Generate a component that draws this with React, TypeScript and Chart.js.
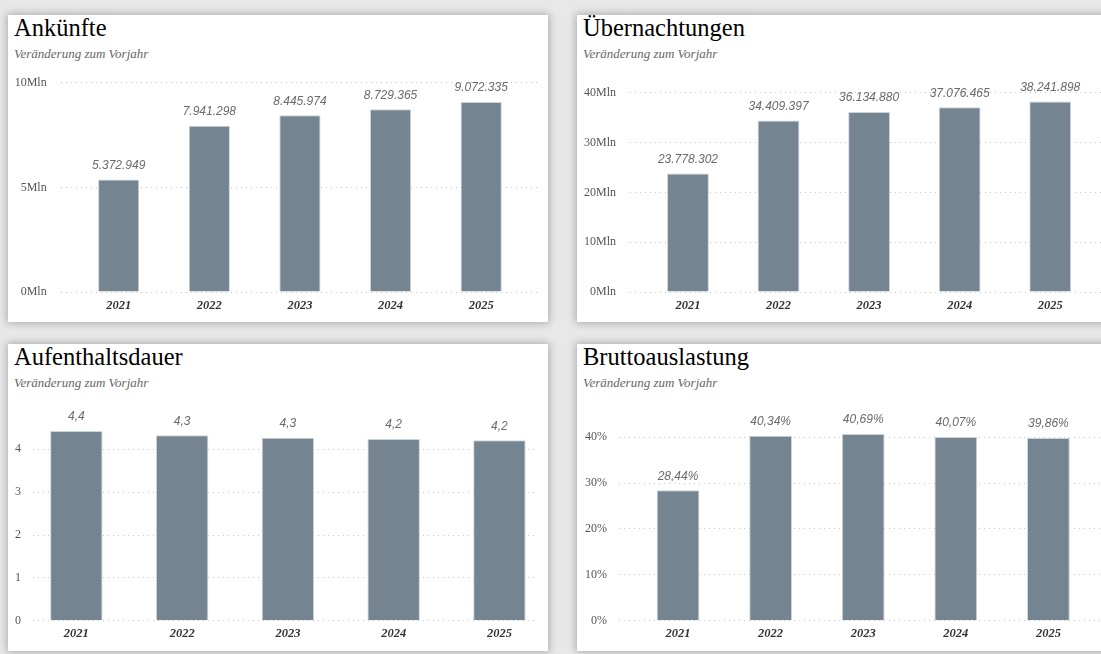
import React, { useEffect, useRef } from "react";
import { Chart, registerables } from "chart.js";
Chart.register(...registerables);

const years = ["2021", "2022", "2023", "2024", "2025"];
const arrivals = [5372949, 7941298, 8445974, 8729365, 9072335];
const overnights = [23778302, 34409397, 36134880, 37076465, 38241898];
const stayLength = [4.43, 4.33, 4.27, 4.24, 4.21];
const occupancy = [0.2844, 0.4034, 0.4069, 0.4007, 0.3986];

const arrivalTicks = [0, 5000000, 10000000];
const overnightTicks = [0, 10000000, 20000000, 30000000, 40000000];
const stayTicks = [0, 1, 2, 3, 4];
const occupancyTicks = [0, 0.1, 0.2, 0.3, 0.4];

const subtitle = "Veränderung zum Vorjahr";

const fmtInt = (n: number) => String(Math.round(n)).replace(/\B(?=(\d{3})+(?!\d))/g, ".");
const fmtMln = (v: number) => Math.round(v / 1e6) + "Mln";
const fmtDec1 = (v: number) => v.toFixed(1).replace(".", ",");
const fmtPct2 = (v: number) => (v * 100).toFixed(2).replace(".", ",") + "%";
const fmtPct0 = (v: number) => Math.round(v * 100) + "%";
const fmtPlain = (v: number) => String(v);

const SERIF = '"Liberation Serif"';
const SANS = '"Liberation Sans"';

type PanelCfg = {
  title: string;
  values: number[];
  ticks: number[];
  yMax: number;
  fmtLabel: (v: number) => string;
  fmtTick: (v: number) => string;
  axisWidth: number;
  tickPad: number;
  padTop: number;
  padRight: number;
  xHeight: number;
  xMin: number;
  xMax: number;
  barPct: number;
  left: number;
  top: number;
};

const W = 540;
const H = 307;

const panels: PanelCfg[] = [
  {
    title: "Ankünfte", values: arrivals, ticks: arrivalTicks, yMax: 10000000,
    fmtLabel: fmtInt, fmtTick: fmtMln, axisWidth: 52.7, tickPad: 14, padTop: 67.7,
    padRight: 7, xHeight: 30, xMin: 0.36, xMax: 5.66, barPct: 0.455, left: 8, top: 15,
  },
  {
    title: "Übernachtungen", values: overnights, ticks: overnightTicks, yMax: 40000000,
    fmtLabel: fmtInt, fmtTick: fmtMln, axisWidth: 53, tickPad: 14, padTop: 77.7,
    padRight: 7, xHeight: 30, xMin: 0.36, xMax: 5.66, barPct: 0.462, left: 577, top: 15,
  },
  {
    title: "Aufenthaltsdauer", values: stayLength, ticks: stayTicks, yMax: 4.5,
    fmtLabel: fmtDec1, fmtTick: fmtPlain, axisWidth: 25, tickPad: 12, padTop: 83.9,
    padRight: 10.5, xHeight: 30.3, xMin: 0.59, xMax: 5.36, barPct: 0.496, left: 8, top: 344,
  },
  {
    title: "Bruttoauslastung", values: occupancy, ticks: occupancyTicks, yMax: 0.44,
    fmtLabel: fmtPct2, fmtTick: fmtPct0, axisWidth: 41.5, tickPad: 11.5, padTop: 74.9,
    padRight: 7.5, xHeight: 30.3, xMin: 0.357, xMax: 5.66, barPct: 0.462, left: 577, top: 344,
  },
];

function BarPanel({ cfg }: { cfg: PanelCfg }) {
  const ref = useRef<HTMLCanvasElement | null>(null);
  useEffect(() => {
    if (!ref.current) return;
    const labelPlugin = {
      id: "valueLabels",
      afterDatasetsDraw(chart: any) {
        const ctx = chart.ctx;
        const meta = chart.getDatasetMeta(0);
        ctx.save();
        ctx.font = "italic 12px " + SANS;
        ctx.fillStyle = "#6a6a6a";
        ctx.textAlign = "center";
        ctx.textBaseline = "middle";
        meta.data.forEach((bar: any, i: number) => {
          ctx.fillText(cfg.fmtLabel(cfg.values[i]), bar.x, bar.y - 14);
        });
        ctx.restore();
      },
    };
    const chart = new Chart(ref.current, {
      type: "bar",
      data: {
        datasets: [
          {
            data: cfg.values.map((v, i) => ({ x: i + 1, y: v })),
            backgroundColor: "#758491",
            borderColor: "#cdd4da",
            borderWidth: 1,
            categoryPercentage: 1,
            barPercentage: cfg.barPct,
          },
        ],
      },
      options: {
        animation: false,
        responsive: false,
        maintainAspectRatio: false,
        layout: { padding: { left: 0, top: cfg.padTop, right: cfg.padRight, bottom: 0 } },
        plugins: { legend: { display: false }, tooltip: { enabled: false }, title: { display: false } },
        scales: {
          x: {
            type: "linear",
            offset: false,
            min: cfg.xMin,
            max: cfg.xMax,
            grid: { display: false, drawTicks: false, offset: false },
            border: { display: false },
            afterBuildTicks: (s: any) => {
              s.ticks = years.map((_, i) => ({ value: i + 1 }));
            },
            afterFit: (s: any) => {
              s.height = cfg.xHeight;
            },
            ticks: {
              autoSkip: false,
              maxRotation: 0,
              padding: 6,
              color: "#333333",
              font: { family: SERIF, size: 12.5, weight: "bold", style: "italic" },
              callback: (v: any) => years[Math.round(Number(v)) - 1] ?? "",
            },
          },
          y: {
            type: "linear",
            min: 0,
            max: cfg.yMax,
            grid: { color: "#c4c4c4", lineWidth: 1, drawTicks: false },
            border: { display: false, dash: [1, 4] },
            afterBuildTicks: (s: any) => {
              s.ticks = cfg.ticks.map((v) => ({ value: v }));
            },
            afterFit: (s: any) => {
              s.width = cfg.axisWidth;
            },
            ticks: {
              padding: cfg.tickPad,
              color: "#555555",
              font: { family: SERIF, size: 12 },
              callback: (v: any) => cfg.fmtTick(Number(v)),
            },
          },
        },
      },
      plugins: [labelPlugin],
    } as any);
    return () => chart.destroy();
  }, [cfg]);

  return (
    <div
      style={{
        position: "absolute",
        left: cfg.left,
        top: cfg.top,
        width: W,
        height: H,
        background: "#ffffff",
        boxShadow: "0 0 8px 1px rgba(0,0,0,0.28)",
      }}
    >
      <div
        style={{
          position: "absolute",
          left: 6,
          top: 1,
          fontFamily: SERIF,
          fontSize: 24.5,
          lineHeight: "24px",
          color: "#000000",
          whiteSpace: "nowrap",
        }}
      >
        {cfg.title}
      </div>
      <div
        style={{
          position: "absolute",
          left: 6,
          top: 32,
          fontFamily: SERIF,
          fontStyle: "italic",
          fontSize: 13,
          lineHeight: "14px",
          color: "#666666",
          whiteSpace: "nowrap",
        }}
      >
        {subtitle}
      </div>
      <canvas
        ref={ref}
        width={W}
        height={H}
        style={{ position: "absolute", left: 0, top: 0, width: W, height: H }}
      />
    </div>
  );
}

export default function App() {
  return (
    <div
      style={{
        position: "fixed",
        left: 0,
        top: 0,
        width: 1101,
        height: 654,
        overflow: "hidden",
        background: "#e8e8e8",
      }}
    >
      {panels.map((p) => (
        <BarPanel key={p.title} cfg={p} />
      ))}
    </div>
  );
}
